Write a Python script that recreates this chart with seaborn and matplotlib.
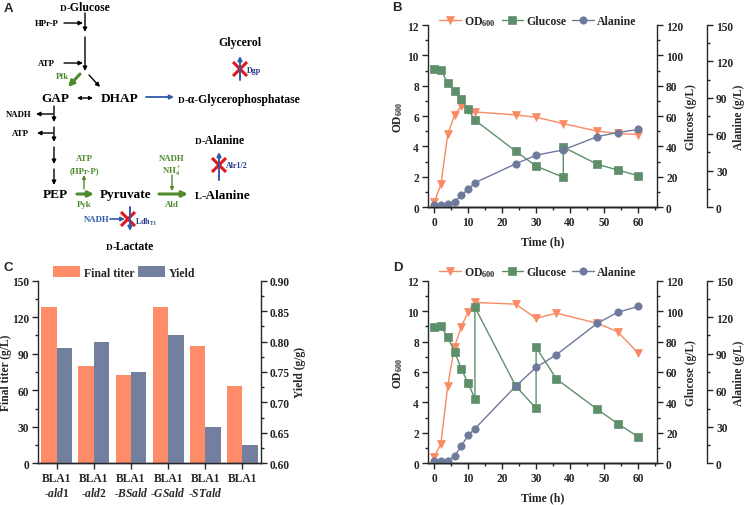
import numpy as np
import pandas as pd
import matplotlib
matplotlib.use('Agg')
import matplotlib.pyplot as plt
import seaborn as sns
from matplotlib.ticker import MultipleLocator, FormatStrFormatter

# ---------------- data ----------------
time_b_od = [0, 2, 4, 6, 8, 10, 12, 24, 30, 38, 48, 54, 60]
od_b = [0.3, 1.5, 4.8, 6.05, 6.67, 6.38, 6.27, 6.07, 5.92, 5.5, 5.0, 4.85, 4.78]
time_b_glc = [0, 2, 4, 6, 8, 10, 12, 24, 30, 38, 38, 48, 54, 60]
glc_b = [91.0, 90.5, 81.6, 76.5, 71.4, 64.3, 57.3, 36.8, 27.0, 19.6, 39.5, 28.2, 24.4, 20.7]
time_b_ala = [0, 2, 4, 6, 8, 10, 12, 24, 30, 38, 48, 54, 60]
ala_b = [1.4, 1.4, 2.2, 4.4, 9.6, 14.8, 20.0, 35.6, 42.7, 47.1, 58.0, 61.4, 63.9]

time_d_od = [0, 2, 4, 6, 8, 10, 12, 24, 30, 36, 48, 54, 60]
od_d = [0.4, 1.3, 5.1, 7.66, 8.98, 9.96, 10.57, 10.46, 9.52, 9.87, 9.2, 8.65, 7.25]
time_d_glc = [0, 2, 4, 6, 8, 10, 12, 12, 24, 30, 30, 36, 48, 54, 60]
glc_d = [89.3, 90.2, 82.8, 73.4, 62.0, 52.6, 42.5, 102.5, 50.8, 36.1, 76.2, 55.4, 35.5, 26.1, 17.5]
time_d_ala = [0, 2, 4, 6, 8, 10, 12, 24, 30, 36, 48, 54, 60]
ala_d = [1.6, 1.6, 1.9, 6.0, 14.2, 23.0, 28.5, 63.3, 78.8, 89.2, 115.0, 124.0, 128.8]

strains = ['BLA1\n-$\\mathit{ald1}$', 'BLA1\n-$\\mathit{ald2}$', 'BLA1\n-$\\mathit{BSald}$',
           'BLA1\n-$\\mathit{GSald}$', 'BLA1\n-$\\mathit{STald}$', 'BLA1']
titer = [128.6, 79.7, 72.6, 128.6, 96.0, 63.8]
yield_gg = [0.79, 0.80, 0.75, 0.81, 0.66, 0.63]

# ---------------- style ----------------
sns.set_style('ticks')
plt.rcParams['font.family'] = ['Liberation Serif', 'DejaVu Serif']
plt.rcParams['font.weight'] = 'bold'
plt.rcParams['axes.labelweight'] = 'bold'
plt.rcParams['mathtext.fontset'] = 'custom'
plt.rcParams['mathtext.rm'] = 'Liberation Serif:bold'
plt.rcParams['mathtext.it'] = 'Liberation Serif:bold:italic'
plt.rcParams['mathtext.bf'] = 'Liberation Serif:bold'
plt.rcParams['axes.linewidth'] = 1.0
plt.rcParams['xtick.direction'] = 'out'
plt.rcParams['ytick.direction'] = 'out'

C_OD = '#F98A64'
C_GLC = '#5E8F6B'
C_ALA = '#6E7A9B'
C_TIT = '#FF8C69'
C_YLD = '#737F9E'
TICK = 8.3
LAB = 8.3
LPAD = 1.0

fig = plt.figure(figsize=(7.47, 5.06), dpi=100)

# ---------------- panel A: pathway ----------------
axA = fig.add_axes([0, 0, 1, 1])
axA.set_xlim(0, 747)
axA.set_ylim(506, 0)
axA.axis('off')
axA.set_zorder(-1)
renderer = fig.canvas.get_renderer()

G = '#4E8B2C'
BL = '#2F5BAA'
DB = '#22388A'
RED = '#E3161C'
SM = 6.3


def arrow(x0, y0, x1, y1, color='black', lw=1.0, ms=6, style='-|>'):
    axA.annotate('', xy=(x1, y1), xytext=(x0, y0),
                 arrowprops=dict(arrowstyle=style, color=color, lw=lw,
                                 mutation_scale=ms, shrinkA=0, shrinkB=0))


def txt(x, y, s, size, color='black', ha='center'):
    axA.text(x, y, s, fontsize=size, color=color, ha=ha, va='center', fontweight='bold')


def sc_text(x, y, first, rest, size, color='black'):
    yb = y + 0.33 * size * 100 / 72
    t1 = axA.text(x, yb, first, fontsize=size * 0.78, color=color, ha='left',
                  va='baseline', fontweight='bold')
    w = t1.get_window_extent(renderer).width
    axA.text(x + w, yb, rest, fontsize=size, color=color, ha='left',
             va='baseline', fontweight='bold')


def cross(x, y, r=7):
    axA.plot([x - r, x + r], [y - r, y + r], color=RED, lw=2.2, solid_capstyle='butt')
    axA.plot([x - r, x + r], [y + r, y - r], color=RED, lw=2.2, solid_capstyle='butt')


sc_text(60, 7, 'D', '-Glucose', 8.5)
arrow(85, 14, 85, 33)
txt(47, 24, 'HPr-P', SM)
arrow(64, 24, 83, 24)
arrow(85, 38, 85, 72)
txt(46, 64, 'ATP', SM)
arrow(64, 64, 83, 64)
txt(62, 77, 'Pfk', SM, G)
arrow(80, 75, 68, 88, color=G, lw=2.2, ms=8)
arrow(89, 76, 100, 88)
txt(55, 99, 'GAP', 9.5)
txt(120, 99, 'DHAP', 9.5)
arrow(77, 99, 93, 99, style='<|-|>', ms=5)
arrow(146, 98, 174, 98, color=BL, lw=1.3)
sc_text(178, 99, 'D', '-\u03b1-Glycerophosphatase', 8.5)
txt(240, 43, 'Glycerol', 8.5)
arrow(240, 81, 240, 57, color=BL, lw=1.4)
cross(240, 70)
txt(247, 71, 'Dgp', 5.8, DB, ha='left')

arrow(54, 107, 54, 123)
txt(19, 115, 'NADH', SM)
arrow(53, 115, 36, 115)
arrow(54, 128, 54, 143)
txt(20, 134, 'ATP', SM)
arrow(53, 134, 37, 134)
arrow(54, 148, 54, 165)
arrow(54, 170, 54, 186)
txt(55, 195, 'PEP', 9.5)
arrow(77, 195, 94, 195, color=G, lw=2.2, ms=8)
txt(84, 205, 'Pyk', SM, G)
arrow(84, 190, 84, 176, color=G, lw=1.0, ms=5)
txt(84, 159, 'ATP', SM, G)
txt(84, 171, '(HPr-P)', SM, G)
txt(126, 195, 'Pyruvate', 9.5)
arrow(159, 195, 188, 195, color=G, lw=2.2, ms=8)
txt(172, 205, 'Ald', SM, G)
txt(172, 159, 'NADH', SM, G)
txt(172, 171, 'NH$_4^+$', SM, G)
arrow(172, 176, 172, 192, color=G, lw=1.0, ms=5)
sc_text(195, 195, 'L', '-Alanine', 9.5)
sc_text(195, 140, 'D', '-Alanine', 8.5)
arrow(219, 181, 219, 153, color=BL, lw=1.4)
cross(219, 166)
txt(226, 166, 'Alr1/2', 5.8, DB, ha='left')
arrow(130, 208, 130, 232, color=BL, lw=1.4)
cross(128, 220)
txt(97, 220, 'NADH', SM, BL)
arrow(110, 220, 125, 220, color=BL, lw=1.2)
txt(135, 222, 'Ldh$_{\\mathrm{Ti}}$', 5.8, DB, ha='left')
sc_text(106, 246, 'D', '-Lactate', 8.5)

for lab, (x, y) in {'A': (8, 9), 'B': (397, 8), 'C': (8, 268), 'D': (398, 268)}.items():
    axA.text(x, y, lab, fontsize=9.5, fontweight='bold', family='Liberation Sans',
             ha='center', va='center')


# ---------------- time-course panels ----------------
def style_axes(ax):
    ax.tick_params(which='major', length=4, width=1, labelsize=TICK, pad=2.5)
    ax.tick_params(which='minor', length=2, width=1)


def time_panel(rect, t_od, od, t_glc, glc, t_ala, ala, leg_y):
    ax = fig.add_axes(rect)
    ax2 = ax.twinx()
    ax3 = ax.twinx()
    ax3.spines['right'].set_position(('axes', 1.218))
    mk = dict(markersize=5.3, markeredgewidth=0.5, linewidth=1.0, estimator=None,
              sort=False, errorbar=None, legend=False)
    sns.lineplot(x=t_od, y=od, ax=ax, color=C_OD, marker='v', markeredgecolor=C_OD,
                 label='OD$_{600}$', **mk)
    sns.lineplot(x=t_glc, y=glc, ax=ax2, color=C_GLC, marker='s', markeredgecolor=C_GLC,
                 label='Glucose', **mk)
    sns.lineplot(x=t_ala, y=ala, ax=ax3, color=C_ALA, marker='o', markeredgecolor=C_ALA,
                 label='Alanine', **mk)
    ax.set_xlim(-1.8, 65.6)
    ax.set_ylim(0, 12)
    ax2.set_ylim(0, 120)
    ax3.set_ylim(0, 150)
    ax.xaxis.set_major_locator(MultipleLocator(10))
    ax.xaxis.set_minor_locator(MultipleLocator(5))
    ax.yaxis.set_major_locator(MultipleLocator(2))
    ax.yaxis.set_minor_locator(MultipleLocator(1))
    ax2.yaxis.set_major_locator(MultipleLocator(20))
    ax2.yaxis.set_minor_locator(MultipleLocator(10))
    ax3.yaxis.set_major_locator(MultipleLocator(30))
    ax3.yaxis.set_minor_locator(MultipleLocator(15))
    for a in (ax, ax2, ax3):
        style_axes(a)
        a.spines['top'].set_visible(False)
    ax.spines['right'].set_visible(False)
    ax2.spines['left'].set_visible(False)
    ax3.spines['left'].set_visible(False)
    ax.set_xlabel('Time (h)', fontsize=8.5, labelpad=5)
    ax.set_ylabel('OD$_{600}$', fontsize=LAB, labelpad=LPAD + 0.5)
    ax2.set_ylabel('Glucose (g/L)', fontsize=LAB, labelpad=LPAD)
    ax3.set_ylabel('Alanine (g/L)', fontsize=LAB, labelpad=0)
    hs, ls = [], []
    for a in (ax, ax2, ax3):
        h, l = a.get_legend_handles_labels()
        hs += h
        ls += l
    ax3.legend(hs, ls, loc='center', bbox_to_anchor=(0.48, leg_y), ncol=3, frameon=False,
               fontsize=8.5, handlelength=1.8, handletextpad=0.3, columnspacing=0.5,
               borderaxespad=0)
    return ax


time_panel([0.5730, 0.5889, 0.3066, 0.3597], time_b_od, od_b, time_b_glc, glc_b,
           time_b_ala, ala_b, 1.022)
time_panel([0.5730, 0.0824, 0.3066, 0.3609], time_d_od, od_d, time_d_glc, glc_d,
           time_d_ala, ala_d, 1.046)

# ---------------- panel C: bars ----------------
axC = fig.add_axes([0.0509, 0.0824, 0.2985, 0.3609])
axC2 = axC.twinx()
hue_order = ['Final titer', 'Yield']
pal = {'Final titer': C_TIT, 'Yield': C_YLD}
df_t = pd.DataFrame({'strain': strains, 'measure': 'Final titer', 'value': titer})
df_y = pd.DataFrame({'strain': strains, 'measure': 'Yield', 'value': yield_gg})
sns.barplot(data=df_t, x='strain', y='value', hue='measure', hue_order=hue_order,
            palette=pal, order=strains, ax=axC, width=0.83, errorbar=None, dodge=True,
            legend=False, linewidth=0, saturation=1)
sns.barplot(data=df_y, x='strain', y='value', hue='measure', hue_order=hue_order,
            palette=pal, order=strains, ax=axC2, width=0.83, errorbar=None, dodge=True,
            legend=False, linewidth=0, saturation=1)
axC.set_xlim(-0.5, 5.5)
axC.set_ylim(0, 150)
axC2.set_ylim(0.6, 0.9)
axC.yaxis.set_major_locator(MultipleLocator(30))
axC.yaxis.set_minor_locator(MultipleLocator(15))
axC2.yaxis.set_major_locator(MultipleLocator(0.05))
axC2.yaxis.set_minor_locator(MultipleLocator(0.025))
axC2.yaxis.set_major_formatter(FormatStrFormatter('%.2f'))
for a in (axC, axC2):
    style_axes(a)
    a.spines['top'].set_visible(False)
axC.spines['right'].set_visible(False)
axC2.spines['left'].set_visible(False)
axC.set_xlabel('')
axC.set_ylabel('Final titer (g/L)', fontsize=LAB, labelpad=0)
axC2.set_ylabel('Yield (g/g)', fontsize=LAB, labelpad=LPAD + 1.5)
axC.tick_params(axis='x', labelsize=TICK)
handles = [axC.containers[0], axC2.containers[-1]]
axC2.legend(handles, hue_order, loc='center', bbox_to_anchor=(0.386, 1.046), ncol=2,
            frameon=False, fontsize=8.5, handlelength=2.3, handleheight=1.1,
            handletextpad=0.3, columnspacing=0.3, borderaxespad=0)

fig.savefig('out.png', dpi=100)
